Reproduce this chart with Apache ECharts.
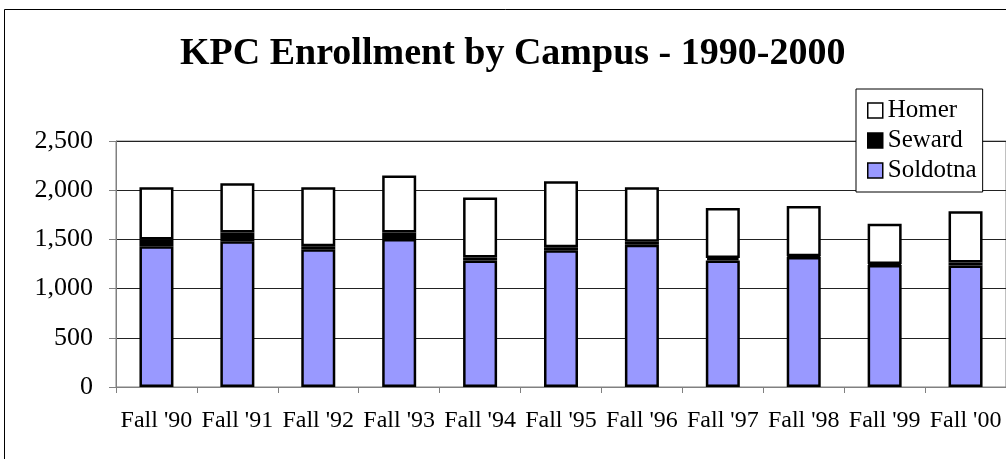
<!DOCTYPE html>
<html>
<head>
<meta charset="utf-8">
<script src="https://cdn.jsdelivr.net/npm/echarts@6/dist/echarts.min.js"></script>
<style>
  html, body { margin: 0; padding: 0; background: #fff; }
  #chart { width: 1006px; height: 459px; }
</style>
</head>
<body>
<div id="chart"></div>
<script>
const categories = ['Fall \'90', 'Fall \'91', 'Fall \'92', 'Fall \'93', 'Fall \'94', 'Fall \'95',
  'Fall \'96', 'Fall \'97', 'Fall \'98', 'Fall \'99', 'Fall \'00']
const soldotna = [1430, 1480, 1400, 1505, 1285, 1390, 1445, 1285, 1320, 1240, 1235]
const seward = [70, 90, 30, 65, 30, 30, 30, 25, 10, 10, 30]
const homer = [530, 500, 600, 580, 610, 670, 555, 510, 510, 410, 520]
const yTicks = [0, 500, 1000, 1500, 2000, 2500]

const serif = '"Liberation Serif", "Times New Roman", serif'

const chart = echarts.init(document.getElementById('chart'))

function barSeries(name, data, color) {
  return {
    name: name,
    type: 'bar',
    stack: 'total',
    barWidth: 34,
    data: data,
    animation: false,
    itemStyle: {
      color: color,
      borderColor: '#000',
      borderWidth: 2.5
    }
  }
}

chart.setOption({
  backgroundColor: '#fff',
  title: {
    text: 'KPC Enrollment by Campus - 1990-2000',
    left: 175,
    top: 30,
    textStyle: {
      fontFamily: serif,
      fontSize: 38,
      fontWeight: 'bold',
      color: '#000'
    }
  },
  graphic: [{
    type: 'rect',
    shape: { x: 4.5, y: 9.5, width: 1100, height: 500 },
    style: { fill: 'none', stroke: '#000', lineWidth: 1 },
    silent: true
  }],
  legend: {
    orient: 'vertical',
    left: 856,
    top: 89,
    data: ['Homer', 'Seward', 'Soldotna'],
    icon: 'rect',
    itemWidth: 15,
    itemHeight: 15,
    itemGap: 5,
    itemTextGap: 8,
    itemStyle: { borderColor: '#000', borderWidth: 1.5 },
    padding: [9, 6, 9, 11],
    backgroundColor: '#fff',
    borderColor: '#000',
    borderWidth: 1,
    borderRadius: 0,
    textStyle: {
      fontFamily: serif,
      fontSize: 25,
      lineHeight: 20,
      color: '#000'
    }
  },
  grid: {
    left: 116,
    top: 141,
    bottom: 72,
    width: 896,
    show: true,
    borderColor: '#808080',
    borderWidth: 1
  },
  xAxis: {
    type: 'category',
    data: categories,
    axisLine: { lineStyle: { color: '#808080', width: 1 } },
    axisTick: { show: true, length: 6, interval: 0, lineStyle: { color: '#808080' } },
    axisLabel: {
      interval: 0,
      margin: 22,
      fontFamily: serif,
      fontSize: 24,
      color: '#000'
    }
  },
  yAxis: {
    type: 'value',
    min: yTicks[0],
    max: yTicks[yTicks.length - 1],
    interval: 500,
    axisLine: { show: true, lineStyle: { color: '#808080', width: 1 } },
    axisTick: { show: true, length: 7, lineStyle: { color: '#808080' } },
    splitLine: { lineStyle: { color: '#222', width: 1 } },
    axisLabel: {
      margin: 23,
      fontFamily: serif,
      fontSize: 26,
      color: '#000',
      formatter: function (v) { return v.toLocaleString('en-US') }
    }
  },
  series: [
    barSeries('Soldotna', soldotna, '#9999ff'),
    barSeries('Seward', seward, '#000'),
    barSeries('Homer', homer, '#fff')
  ]
})
</script>
</body>
</html>
